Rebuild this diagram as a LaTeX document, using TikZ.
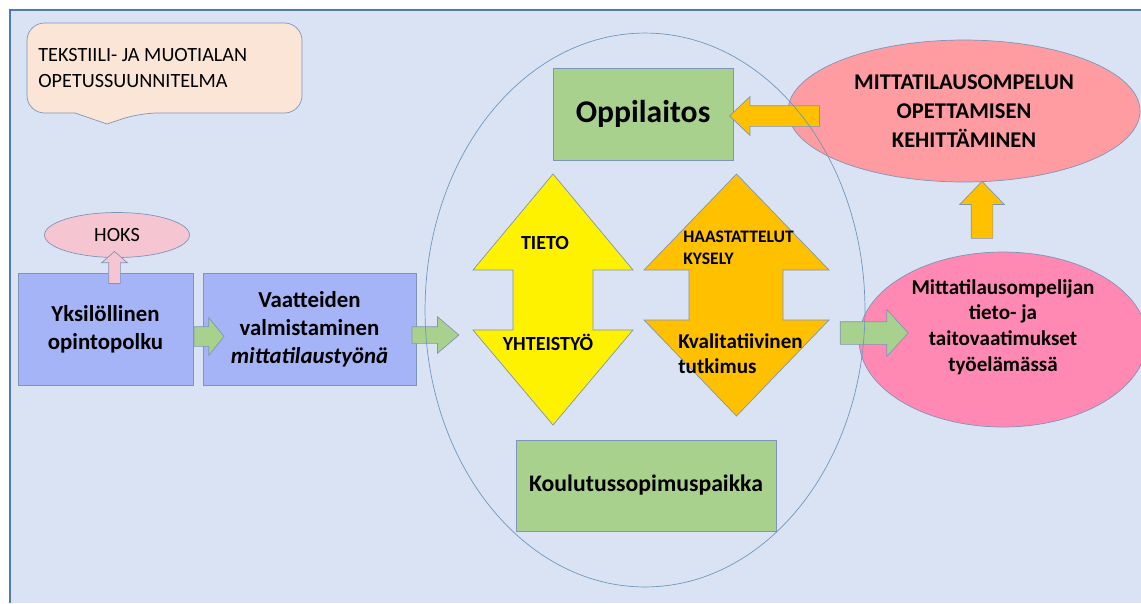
\documentclass[tikz,border=0pt]{standalone}
\usepackage{fontspec}
\setmainfont{Carlito}
\usetikzlibrary{positioning}
\usetikzlibrary{shapes.geometric,shapes.arrows}

\definecolor{bgblue}{HTML}{DAE3F3}
\definecolor{frameblue}{HTML}{4F7AAE}
\definecolor{ringline}{HTML}{7097BD}
\definecolor{shapeline}{HTML}{7F95B8}
\definecolor{peach}{HTML}{FBE5D6}
\definecolor{softpink}{HTML}{F5C6D2}
\definecolor{periwinkle}{HTML}{A5B4F6}
\definecolor{leafgreen}{HTML}{A9D18E}
\definecolor{amber}{HTML}{FFC000}
\definecolor{salmon}{HTML}{FF9CA1}
\definecolor{hotpink}{HTML}{FF89B3}

\tikzset{
  bluebox/.style={draw=shapeline, fill=periwinkle, inner sep=0pt, align=center,
    minimum height=2.24cm, font=\bfseries\fontsize{13}{16}\selectfont},
  greenbox/.style={draw=shapeline, fill=leafgreen, inner sep=0pt, align=center},
  blob/.style={ellipse, draw=shapeline, inner sep=0pt, align=center},
  garrow/.style={single arrow, draw=shapeline, fill=leafgreen},
  oarrow/.style={single arrow, draw=shapeline, fill=amber},
  bigarrow/.style={draw=shapeline, line join=miter},
  lbl/.style={inner sep=0pt, align=left}
}

\begin{document}
\begin{tikzpicture}[x=0.02cm, y=-0.02cm]
\useasboundingbox (0,0) rectangle (1141,603);
\fill[white] (0,0) rectangle (1141,603);
\fill[bgblue] (10,10) rectangle (1141,603);
\draw[frameblue, line width=1.5pt] (10,603) -- (10,10) -- (1141,10);

\draw[draw=shapeline, fill=peach] (27,60) [rounded corners=10] -- (27,23) -- (302,23) -- (302,113) -- (140,113)
  [sharp corners] -- (107,124) -- (75,113) [rounded corners=10] -- (27,113) -- cycle;
\node[lbl, anchor=west, font=\fontsize{11.5}{15}\selectfont] (plan) at (38,68)
  {TEKSTIILI- JA MUOTIALAN\\OPETUSSUUNNITELMA};

\node[blob, fill=softpink, minimum width=2.9cm, minimum height=0.9cm,
  font=\fontsize{11.5}{14}\selectfont] (hoks) at (117,235) {HOKS};

\node[bluebox, minimum width=3.5cm] (yks) at (105.5,329) {Yksilöllinen\\opintopolku};
\node[bluebox, minimum width=4.26cm] (vaat) at (309.5,329)
  {Vaatteiden\\valmistaminen\\\textit{mittatilaustyönä}};

\node[single arrow, draw=shapeline, fill=softpink, inner sep=0.11cm, shape border rotate=90,
  minimum height=0.64cm, single arrow head extend=0.14cm,
  single arrow tip angle=97] (hoksarr) at (114.5,270) {};

\node[garrow, inner sep=0.19cm, minimum height=0.6cm, single arrow head extend=0.18cm,
  single arrow tip angle=102] (a1) at (205,336.5) {};
\node[garrow, inner sep=0.16cm, minimum height=0.94cm, single arrow head extend=0.2cm,
  single arrow tip angle=81] (a2) at (430.5,335) {};

\node[greenbox, minimum width=3.6cm, minimum height=1.84cm,
  font=\bfseries\fontsize{18}{20}\selectfont] (oppi) at (643,114) {Oppilaitos};
\node[greenbox, minimum width=5.2cm, minimum height=1.82cm,
  font=\bfseries\fontsize{13.5}{16}\selectfont] (koulu) at (646,485.5) {Koulutussopimuspaikka};

\draw[bigarrow, fill=yellow] (553,174) -- (633,270) -- (593,270) -- (593,330) -- (633,330)
  -- (553,425) -- (473,330) -- (513,330) -- (513,270) -- (473,270) -- cycle;
\draw[bigarrow, fill=amber] (736.5,174) -- (829,270) -- (783,270) -- (783,320) -- (829,320)
  -- (736.5,416) -- (644,320) -- (689,320) -- (689,270) -- (644,270) -- cycle;

\node[lbl, font=\bfseries\fontsize{11.4}{14}\selectfont] (tieto) at (545,243) {TIETO};
\node[lbl, font=\bfseries\fontsize{11.4}{14}\selectfont] (yht) at (548,342) {YHTEISTYÖ};
\node[lbl, anchor=west, font=\bfseries\fontsize{10}{12.5}\selectfont] (haast) at (683,248)
  {HAASTATTELUT\\KYSELY};
\node[lbl, anchor=west, font=\bfseries\fontsize{12}{14.3}\selectfont] (kval) at (678,354)
  {Kvalitatiivinen\\tutkimus};

\node[blob, fill=salmon, minimum width=7.04cm, minimum height=2.84cm,
  font=\bfseries\fontsize{12.8}{16.3}\selectfont] (kehit) at (964,111)
  {MITTATILAUSOMPELUN\\OPETTAMISEN\\KEHITTÄMINEN};
\node[blob, fill=hotpink, minimum width=5.76cm, minimum height=3.5cm] (tyo) at (1003,339.5) {};
\node[lbl, align=center, font=\bfseries\fontsize{12}{14.7}\selectfont] (tyotxt) at (1003,327)
  {Mittatilausompelijan\\tieto- ja\\taitovaatimukset\\työelämässä};

\node[oarrow, shape border rotate=180, inner sep=0.2cm, minimum height=1.8cm,
  single arrow head extend=0.18cm, single arrow tip angle=87] (a4) at (780,116) {};
\node[oarrow, shape border rotate=90, inner sep=0.21cm, minimum height=1.14cm,
  single arrow head extend=0.23cm, single arrow tip angle=88] (a5) at (982,215.5) {};
\node[garrow, inner sep=0.22cm, minimum height=1.36cm, single arrow head extend=0.24cm,
  single arrow tip angle=95] (a3) at (869,333) {};

\node[ellipse, draw=ringline, minimum width=8.8cm, minimum height=11.08cm, inner sep=0pt] (ring)
  at (645,310) {};
\end{tikzpicture}
\end{document}
